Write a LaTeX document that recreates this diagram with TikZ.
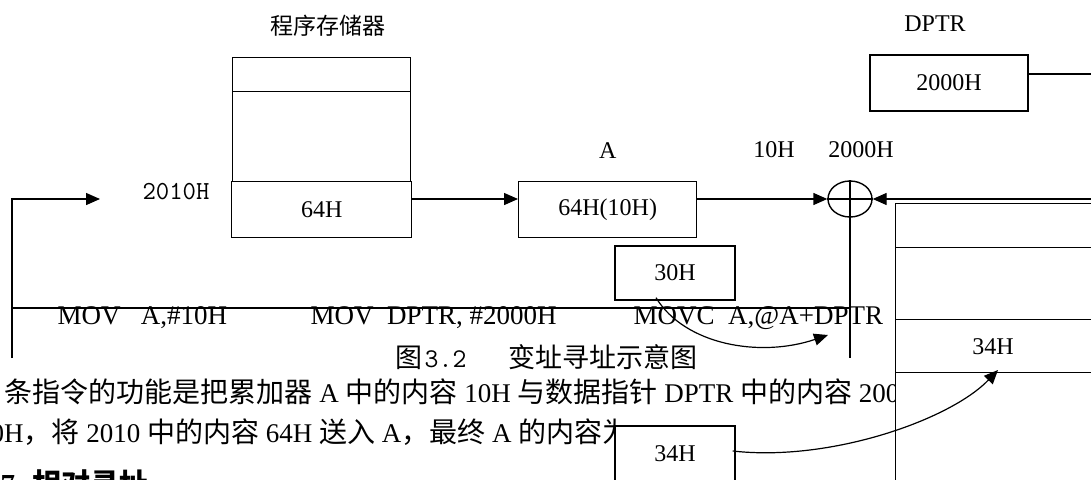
\documentclass[tikz,border=0pt]{standalone}
\usepackage{fontspec}
\setmainfont{Liberation Serif}
\newfontfamily\cjk{Noto Sans CJK SC}
\usetikzlibrary{positioning,arrows.meta,shapes.geometric}

\newcommand\zh[1]{{\cjk #1}}
\newcommand\zhp[1]{{\cjk\fontsize{28}{30}\selectfont #1}}

\begin{document}
\begin{tikzpicture}[x=1pt,y=-1pt, >={Triangle[length=14pt,width=12pt]},
  line width=1.4pt, font=\fontsize{24}{28}\selectfont,
  memcell/.style={draw,fill=white,inner sep=0pt,anchor=north west,minimum width=178pt},
  valbox/.style={draw,fill=white,inner sep=0pt,minimum width=120pt,minimum height=54pt},
  ramcell/.style={draw,fill=white,inner sep=0pt,anchor=north west,minimum width=220pt},
  para/.style={anchor=west,inner sep=0pt,font=\fontsize{27}{30}\selectfont},
  instr/.style={anchor=west,inner sep=0pt,font=\fontsize{27}{30}\selectfont},
  zhlbl/.style={inner sep=0pt,font=\fontsize{23}{26}\selectfont\cjk}]
  \useasboundingbox (0,0) rectangle (1091,479);
  \clip (0,0) rectangle (1091,479);
  % text of the page behind the picture
  \node[para] (p1) at (4,392) {\zhp{条指令的功能是把累加器} A \zhp{中的内容} 10H \zhp{与数据指针} DPTR \zhp{中的内容} 2000H};
  \node[para] (p2) at (-10,432) {0H\zhp{，将} 2010 \zhp{中的内容} 64H \zhp{送入} A\zhp{，最终} A \zhp{的内容为}};
  \node[para,font=\fontsize{29}{32}\selectfont\bfseries] (p3) at (0,483) {7. \zh{相对寻址}};
  % program memory
  \node[memcell,minimum height=34pt] (mem1) at (232,57) {};
  \node[memcell,minimum height=90pt] (mem2) at (232,91) {};
  \node[memcell,minimum height=56pt,minimum width=180pt] (m64) at (231,181) {64H};
  \node[zhlbl,above=20pt of mem1,xshift=6pt] (memlbl) {程序存储器};
  \node[inner sep=0pt,font=\fontsize{26}{28}\selectfont\ttfamily] (addr) at (176,192) {2010H};
  % accumulator
  \node[memcell,minimum height=56pt] (regA) at (518,181) {64H(10H)};
  \node[inner sep=0pt,above=22pt of regA] (albl) {A};
  \node[inner sep=0pt] (v10) at (774,150) {10H};
  \node[inner sep=0pt] (v2000) at (861,150) {2000H};
  % DPTR
  \node[draw,inner sep=0pt,minimum width=158pt,minimum height=56pt] (dptr) at (949,83) {2000H};
  \node[inner sep=0pt,above=22pt of dptr,xshift=-14pt] (dlbl) {DPTR};
  % adder
  \node[draw,ellipse,inner sep=0pt,minimum width=44pt,minimum height=36pt] (sum) at (850,199) {};
  \draw (sum.west) -- (sum.east);
  \coordinate (sb) at (850,358);
  \draw (sum.north) -- (sb);
  % data memory
  \node[ramcell,minimum height=44pt] (r1) at (895,203) {};
  \node[ramcell,minimum height=72pt] (r2) at (895,247) {};
  \node[ramcell,minimum height=53pt] (r3) at (895,319) {};
  \node[ramcell,minimum height=130pt] (r4) at (895,372) {};
  \node[inner sep=0pt] (r3v) at (993,347) {34H};
  % instructions
  \coordinate (lb) at (12,358);
  \coordinate (lt) at (100,199);
  \coordinate (ml) at (12,308);
  \draw[->] (lb) |- (lt);
  \draw (ml) -- (ml -| sb);
  \node[instr] (i1) at (57,318) {MOV\ \ \ A,\#10H};
  \node[instr] (i2) at (310,318) {MOV\ \ DPTR, \#2000H};
  \node[instr] (i3) at (633,318) {MOVC\ \ A,@A+DPTR};
  \node[valbox] (b30) at (675,273) {30H};
  \node[valbox,minimum height=56pt] (b34) at (675,454) {34H};
  \node[anchor=west,inner sep=0pt,font=\fontsize{27}{30}\selectfont] (cap) at (395,357) {\zh{图}\hspace{2pt}{\ttfamily 3.2}\hspace{42pt}\zh{变址寻址示意图}};
  % data flow
  \draw[->] (m64.east |- sum) -- (regA.west |- sum);
  \draw[->] (regA.east |- sum) -- (sum.west);
  \coordinate (rin) at (1091,199);
  \draw[->] (rin) -- (sum.east);
  \coordinate (dout) at (1091,74);
  \draw (dout -| dptr.east) -- (dout);
  \coordinate (t1) at (828,335);
  \coordinate (t2) at (998,370);
  \draw[->,line width=1.2pt] ([xshift=-19pt,yshift=3pt]b30.south) .. controls (685,345) and (760,358) .. (t1);
  \draw[->,line width=1.2pt] ([xshift=-3pt,yshift=3pt]b34.east) .. controls (830,462) and (950,420) .. (t2);
\end{tikzpicture}
\end{document}
